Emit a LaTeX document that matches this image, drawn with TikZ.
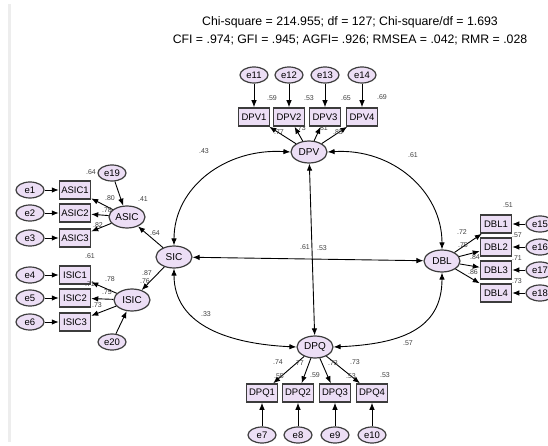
\documentclass[tikz,border=0pt]{standalone}
\usepackage{fontspec}
\setmainfont{Liberation Sans}
\usetikzlibrary{arrows.meta,shapes.geometric,positioning}
\definecolor{lav}{RGB}{236,222,245}
\definecolor{edge}{RGB}{60,60,60}

\begin{document}
\begin{tikzpicture}[x=1pt, y=-1pt,
    lat/.style={ellipse, draw=edge, line width=1.2pt, fill=lav, minimum width=36pt, minimum height=22pt, inner sep=0pt, font=\fontsize{10}{10}\selectfont},
    err/.style={ellipse, draw=edge, line width=1.2pt, fill=lav, minimum width=28pt, minimum height=16pt, inner sep=0pt, font=\fontsize{9.5}{9.5}\selectfont},
    ind/.style={draw=edge, line width=1.5pt, fill=lav, minimum width=31pt, minimum height=18pt, inner sep=0pt, font=\fontsize{9.5}{9.5}\selectfont},
    num/.style={inner sep=0pt, text=black!75, font=\fontsize{7}{7}\selectfont},
    reg/.style={-{Latex[length=7pt,width=5.5pt]}, line width=0.9pt},
    cov/.style={{Latex[length=7pt,width=5.5pt]}-{Latex[length=7pt,width=5.5pt]}, line width=0.9pt}]
    \useasboundingbox (0,0) rectangle (548,446);
    \fill[black!7] (8,4) rectangle (11,442);

    % Fit indices
    \node[font=\fontsize{12.3}{12.3}\selectfont] (fit1) at (350,22) {Chi-square = 214.955; df = 127; Chi-square/df = 1.693};
    \node[font=\fontsize{12.3}{12.3}\selectfont] (fit2) at (350,40) {CFI = .974; GFI = .945; AGFI= .926; RMSEA = .042; RMR = .028};

    % Latent variables
    \node[lat] (dpv) at (309,152) {DPV};
    \node[lat] (dpq) at (315,347) {DPQ};
    \node[lat] (sic) at (174,257) {SIC};
    \node[lat] (dbl) at (442,261) {DBL};
    \node[lat] (asic) at (127,217) {ASIC};
    \node[lat] (isic) at (132,300) {ISIC};
    \node[err] (e19) at (112,173) {e19};
    \node[err] (e20) at (112,342) {e20};

    % DPV indicators
    \foreach \i/\x/\e in {1/254/11, 2/289/12, 3/325/13, 4/362/14}{
        \node[ind] (dpv\i) at (\x,117) {DPV\i};
        \node[err] (e\e) at (\x,75) {e\e};
        \draw[reg] (e\e) -- (dpv\i);
        \draw[reg] (dpv) -- (dpv\i);
    }

    % DPQ indicators
    \foreach \i/\x/\e in {1/262/7, 2/298/8, 3/335/9, 4/372/10}{
        \node[ind] (dpq\i) at (\x,393) {DPQ\i};
        \node[err] (e\e) at (\x,435) {e\e};
        \draw[reg] (e\e) -- (dpq\i);
        \draw[reg] (dpq) -- (dpq\i);
    }

    % DBL indicators
    \foreach \i/\y/\e in {1/224/15, 2/247/16, 3/270/17, 4/293/18}{
        \node[ind] (dbl\i) at (496,\y) {DBL\i};
        \node[err] (e\e) at (540,\y) {e\e};
        \draw[reg] (e\e) -- (dbl\i);
        \draw[reg] (dbl) -- (dbl\i);
    }

    % ASIC and ISIC indicators
    \foreach \i/\y/\e in {1/190/1, 2/213/2, 3/238/3}{
        \node[ind] (asic\i) at (75,\y) {ASIC\i};
        \node[err] (e\e) at (30,\y) {e\e};
        \draw[reg] (e\e) -- (asic\i);
        \draw[reg] (asic) -- (asic\i);
    }
    \foreach \i/\y/\e in {1/275/4, 2/298/5, 3/322/6}{
        \node[ind] (isic\i) at (75,\y) {ISIC\i};
        \node[err] (e\e) at (30,\y) {e\e};
        \draw[reg] (e\e) -- (isic\i);
        \draw[reg] (isic) -- (isic\i);
    }

    % Second order factor
    \draw[reg] (sic) -- (asic);
    \draw[reg] (sic) -- (isic);
    \draw[reg] (e19) -- (asic);
    \draw[reg] (e20) -- (isic);

    % Covariances
    \draw[cov] (sic) -- (dbl);
    \draw[cov] (dpv) -- (dpq);
    \draw[cov] (dpv.west) .. controls +(-65,-4) and +(0,-58) .. (sic.north);
    \draw[cov] (dpv.east) .. controls +(65,-4) and +(0,-58) .. (dbl.north);
    \draw[cov] (dpq.west) .. controls +(-65,-3) and +(0,58) .. (sic.south);
    \draw[cov] (dpq.east) .. controls +(65,-3) and +(0,58) .. (dbl.south);

    % Estimates
    \node[num] (c1) at (204,151) {.43};
    \node[num] (c2) at (413,155) {.61};
    \node[num] (c3) at (206,314) {.33};
    \node[num] (c4) at (408,343) {.57};
    \node[num] (c5) at (305,247) {.61};
    \node[num] (c6) at (322,248) {.53};
    \node[num] (r1) at (272,98) {.59};
    \node[num] (r2) at (309,98) {.53};
    \node[num] (r3) at (346,98) {.65};
    \node[num] (r4) at (382,97) {.69};
    \node[num] (l1) at (279,132) {.77};
    \node[num] (l2) at (301,128) {.73};
    \node[num] (l3) at (323,128) {.81};
    \node[num] (l4) at (338,132) {.83};
    \node[num] (l5) at (278,362) {.74};
    \node[num] (l6) at (299,363) {.77};
    \node[num] (l7) at (333,363) {.73};
    \node[num] (l8) at (355,362) {.73};
    \node[num] (r5) at (279,376) {.55};
    \node[num] (r6) at (315,375) {.59};
    \node[num] (r7) at (351,376) {.53};
    \node[num] (r8) at (385,375) {.53};
    \node[num] (r9) at (508,205) {.51};
    \node[num] (r10) at (517,235) {.57};
    \node[num] (r11) at (517,258) {.71};
    \node[num] (r12) at (517,281) {.73};
    \node[num] (l9) at (462,232) {.72};
    \node[num] (l10) at (463,245) {.75};
    \node[num] (l11) at (475,257) {.84};
    \node[num] (l12) at (473,272) {.86};
    \node[num] (r13) at (91,172) {.64};
    \node[num] (r14) at (143,199) {.41};
    \node[num] (l13) at (110,198) {.80};
    \node[num] (l14) at (107,210) {.78};
    \node[num] (l15) at (98,225) {.82};
    \node[num] (l16) at (155,233) {.64};
    \node[num] (r15) at (90,256) {.61};
    \node[num] (l17) at (147,273) {.87};
    \node[num] (l18) at (145,281) {.76};
    \node[num] (l19) at (110,279) {.78};
    \node[num] (l20) at (107,292) {.75};
    \node[num] (l21) at (97,305) {.73};
    \node[num] (r16) at (90,284) {.71};
\end{tikzpicture}
\end{document}
